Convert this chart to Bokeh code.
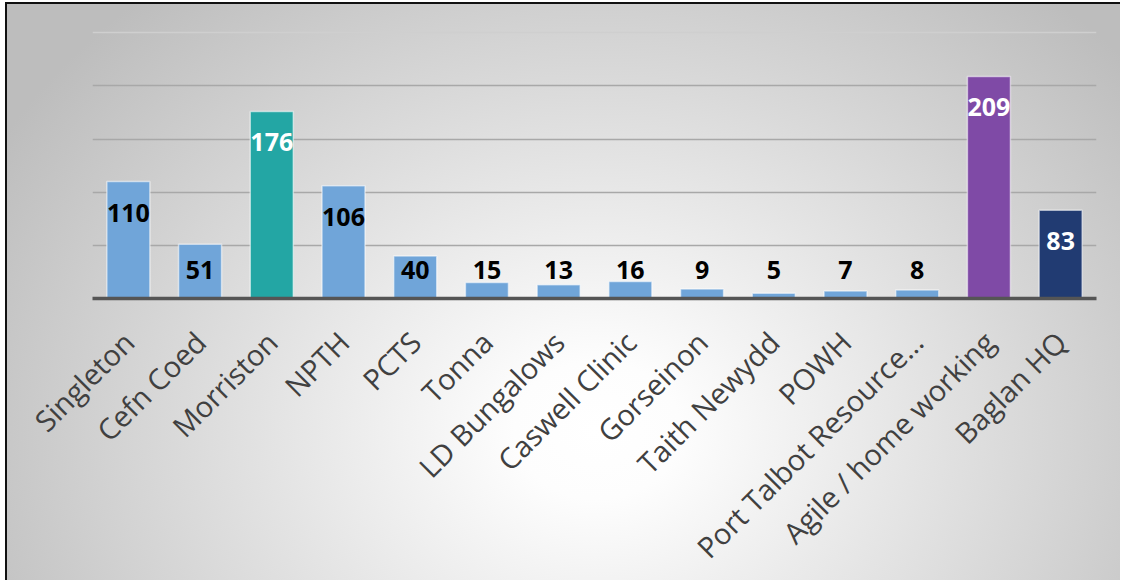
import numpy as np
from bokeh.plotting import figure
from bokeh.models import ColumnDataSource, Range1d, FactorRange, FixedTicker, Grid
from bokeh.embed import file_html
from bokeh.resources import INLINE
from bokeh.core.properties import value

sites = ["Singleton", "Cefn Coed", "Morriston", "NPTH", "PCTS", "Tonna",
         "LD Bungalows", "Caswell Clinic", "Gorseinon", "Taith Newydd", "POWH",
         "Port Talbot Resource…", "Agile / home working", "Baglan HQ"]
counts = [110, 51, 176, 106, 40, 15, 13, 16, 9, 5, 7, 8, 209, 83]
bar_colors = ["#70a5d9", "#70a5d9", "#23a6a4", "#70a5d9", "#70a5d9", "#70a5d9",
              "#70a5d9", "#70a5d9", "#70a5d9", "#70a5d9", "#70a5d9", "#70a5d9",
              "#7f4aa6", "#213b72"]
label_colors = ["black", "black", "white", "black", "black", "black", "black",
                "black", "black", "black", "black", "black", "white", "white"]
grid_ticks = [50, 100, 150, 200]
top_grid_tick = [250]

source = ColumnDataSource(dict(
    site=sites,
    count=counts,
    color=bar_colors,
    label=[str(c) for c in counts],
    label_color=label_colors,
    label_y=list(np.maximum(np.array(counts), 56)),
))

p = figure(x_range=FactorRange(factors=sites), y_range=Range1d(0, 255),
           width=1115, height=578, output_backend="svg", toolbar_location=None,
           min_border_left=85, min_border_right=26, min_border_top=23,
           min_border_bottom=284)

p.background_fill_color = None
p.border_fill_color = None
p.outline_line_color = None
p.styles = {
    "background-image": "radial-gradient(ellipse 62% 100% at 53% 74%, #ffffff 0%, #fdfdfd 12%, #bdbdbd 100%)",
    "border-left": "2px solid #111111",
    "border-top": "2px solid #111111",
    "position": "relative",
    "left": "5px",
    "top": "2px",
}

p.vbar(x="site", top="count", width=0.6, source=source,
       fill_color="color", line_color="white", line_alpha=0.55, line_width=1.5)

p.text(x="site", y="label_y", text="label", source=source,
       text_align="center", text_baseline="middle", y_offset=31,
       text_font=value("Open Sans"), text_font_style="bold",
       text_font_size="25px", text_color="label_color")

p.yaxis.visible = False
p.xgrid.grid_line_color = None
p.ygrid.ticker = FixedTicker(ticks=grid_ticks)
p.ygrid.grid_line_color = "#a8a8a8"
p.ygrid.grid_line_width = 1.5
p.add_layout(Grid(dimension=1, ticker=FixedTicker(ticks=top_grid_tick),
                  grid_line_color="#cfcfcf", grid_line_width=1.5))

ax = p.xaxis[0]
ax.axis_label = None
ax.axis_line_color = "#555555"
ax.axis_line_width = 3.5
ax.major_tick_line_color = None
ax.minor_tick_line_color = None
ax.major_tick_out = 0
ax.major_tick_in = 0
ax.minor_tick_out = 0
ax.minor_tick_in = 0
ax.major_label_orientation = np.pi / 4
ax.major_label_text_font = "Open Sans"
ax.major_label_text_font_size = "29px"
ax.major_label_text_color = "#404040"
ax.major_label_standoff = 38

open("out.html", "w").write(file_html(p, INLINE))
